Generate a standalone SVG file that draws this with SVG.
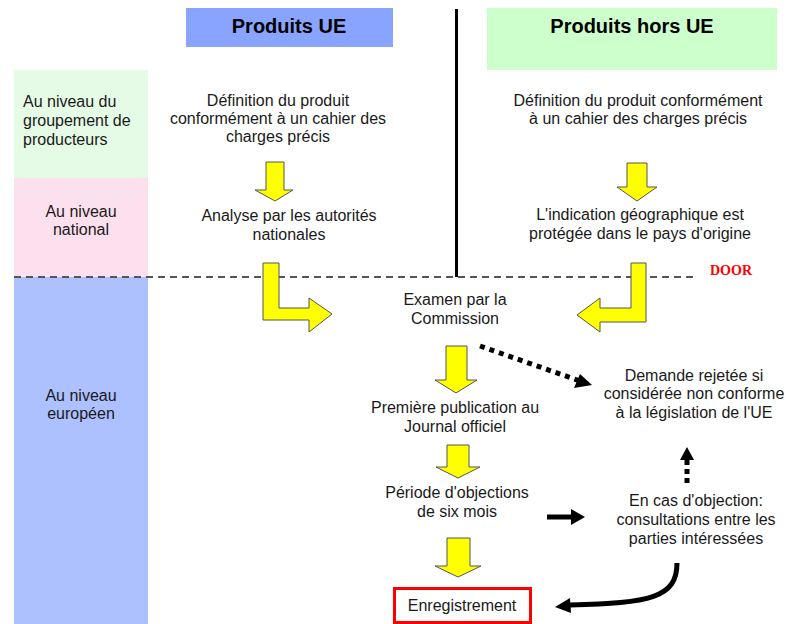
<svg xmlns="http://www.w3.org/2000/svg" width="788" height="624" viewBox="0 0 788 624">
<style>
text{font-family:"Liberation Sans",Arial,sans-serif;font-size:16px;fill:#1a1a1a}
.c{text-anchor:middle}
.h{font-weight:bold;font-size:20px;fill:#000}
.ya{fill:#ffff00;stroke:#555;stroke-width:1}
.door{font-family:"Liberation Serif","Times New Roman",serif;font-weight:bold;font-size:14px;fill:#ff0000}
</style>
<rect width="788" height="624" fill="#fff"/>
<g id="bands">
<rect x="14" y="70" width="134" height="108" fill="#e6fbe6"/>
<rect x="14" y="178" width="134" height="99" fill="#fde0ee"/>
<rect x="14" y="277" width="134" height="347" fill="#adc0ff"/>
<text x="23" y="107">Au niveau du</text>
<text x="23" y="126">groupement de</text>
<text x="23" y="145">producteurs</text>
<text class="c" x="81" y="217">Au niveau</text>
<text class="c" x="81" y="235">national</text>
<text class="c" x="81" y="401">Au niveau</text>
<text class="c" x="81" y="419">européen</text>
</g>
<g id="headers">
<rect x="186" y="8" width="207" height="39" fill="#88a4ff"/>
<text class="c h" x="289" y="33">Produits UE</text>
<rect x="487" y="8" width="290" height="62" fill="#ccffcc"/>
<text class="c h" x="632" y="33">Produits hors UE</text>
</g>
<g id="dividers">
<line x1="456.5" y1="9" x2="456.5" y2="277" stroke="#000" stroke-width="3"/>
<line x1="14" y1="277" x2="695" y2="277" stroke="#555" stroke-width="2" stroke-dasharray="7,5"/>
<text class="door" x="710" y="275">DOOR</text>
</g>
<g id="n-def-ue">
<text class="c" x="278" y="106">Définition du produit</text>
<text class="c" x="278" y="124">conformément à un cahier des</text>
<text class="c" x="278" y="142">charges précis</text>
</g>
<g id="n-def-hors">
<text class="c" x="638" y="106">Définition du produit conformément</text>
<text class="c" x="638" y="124">à un cahier des charges précis</text>
</g>
<g id="n-analyse">
<text class="c" x="289" y="221">Analyse par les autorités</text>
<text class="c" x="289" y="240">nationales</text>
</g>
<g id="n-indication">
<text class="c" x="640" y="220">L'indication géographique est</text>
<text class="c" x="640" y="239">protégée dans le pays d'origine</text>
</g>
<g id="n-examen">
<text class="c" x="455" y="305">Examen par la</text>
<text class="c" x="455" y="324">Commission</text>
</g>
<g id="n-rejet">
<text class="c" x="694" y="381">Demande rejetée si</text>
<text class="c" x="694" y="399">considérée non conforme</text>
<text class="c" x="694" y="418">à la législation de l'UE</text>
</g>
<g id="n-publication">
<text class="c" x="455" y="413">Première publication au</text>
<text class="c" x="455" y="432">Journal officiel</text>
</g>
<g id="n-periode">
<text class="c" x="457" y="498">Période d'objections</text>
<text class="c" x="457" y="517">de six mois</text>
</g>
<g id="n-objection">
<text class="c" x="696" y="506">En cas d'objection:</text>
<text class="c" x="696" y="525">consultations entre les</text>
<text class="c" x="696" y="544">parties intéressées</text>
</g>
<g id="n-enregistrement">
<rect x="394.5" y="588.5" width="136" height="34" fill="#fff" stroke="#ff0000" stroke-width="3"/>
<text class="c" x="462" y="611">Enregistrement</text>
</g>
<g id="connectors">
<path class="ya" d="M266,162 H284 V190 H293 L275,201 L255,190 H266 Z"/>
<path class="ya" d="M627,163 H647 V187 H657 L637,201 L617,187 H627 Z"/>
<path class="ya" d="M263,263 H279 V308 H309 V298 L332,314 L309,332 V320 H263 Z"/>
<path class="ya" d="M646,263 H631 V308 H600 V298 L577,315 L600,332 V322 H646 Z"/>
<path class="ya" d="M446,346 H467 V380 H477 L456,393 L435,380 H446 Z"/>
<path class="ya" d="M447,445 H469 V467 H480 L458,478 L436,467 H447 Z"/>
<path class="ya" d="M447,538 H470 V566 H481 L458,577 L435,566 H447 Z"/>
<line x1="480" y1="346" x2="580" y2="381" stroke="#000" stroke-width="5" stroke-dasharray="5,5"/>
<path d="M592,385 L574,388 L580,374 Z" fill="#000"/>
<line x1="547" y1="517" x2="572" y2="517" stroke="#000" stroke-width="5"/>
<path d="M585,517 L571,509 L571,525 Z" fill="#000"/>
<line x1="687" y1="483" x2="687" y2="460" stroke="#000" stroke-width="5" stroke-dasharray="5,4"/>
<path d="M687,447 L680,460 L694,460 Z" fill="#000"/>
<path d="M677,563 C677,598 650,603 570,605" fill="none" stroke="#000" stroke-width="5"/>
<path d="M555,607 L570,598 L571,613 Z" fill="#000"/>
</g>
</svg>
